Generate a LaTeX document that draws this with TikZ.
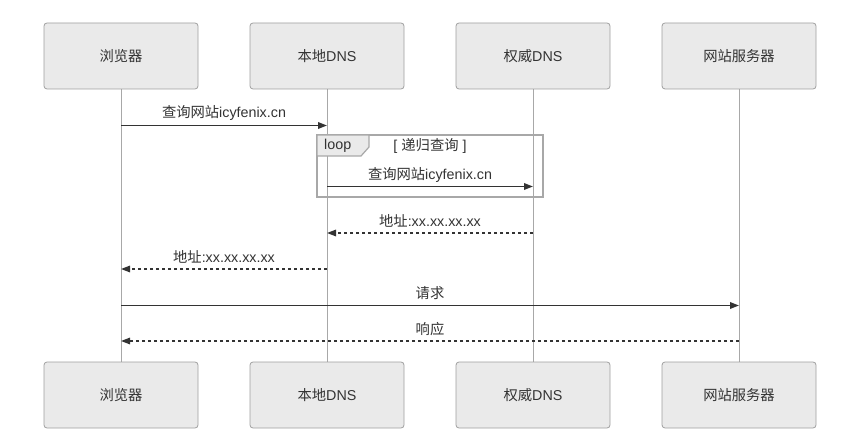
\documentclass[tikz,border=0pt]{standalone}
\usepackage{fontspec}
\setmainfont{Liberation Sans}
\newfontfamily\cjk{Noto Sans CJK SC}
\usetikzlibrary{arrows.meta}
\definecolor{boxfill}{HTML}{EAEAEA}
\definecolor{boxline}{HTML}{A0A0A0}
\definecolor{lifeline}{HTML}{A8A8A8}
\definecolor{msg}{HTML}{333333}
\definecolor{loopline}{HTML}{A8A8A8}
\begin{document}
\begin{tikzpicture}[x=1pt,y=-1pt,
  actor/.style={draw=boxline,fill=boxfill,line width=0.8pt,rounded corners=3pt,minimum width=154pt,minimum height=66pt,inner sep=0pt,text=msg,font=\fontsize{14.3}{16}\selectfont},
  life/.style={draw=lifeline,line width=0.8pt},
  msgline/.style={draw=msg,line width=1.8pt,-{Triangle[length=9pt,width=6.5pt]}},
  reply/.style={msgline,line width=1.4pt,dash pattern=on 3pt off 3pt},
  lbl/.style={text=msg,font=\fontsize{14.3}{16}\selectfont,inner sep=0pt}]
\useasboundingbox (0,0) rectangle (851,446);
\fill[white] (0,0) rectangle (851,446);
% lifelines
\foreach \n/\x in {a/121,b/327,c/533,d/739}{
  \coordinate (\n top) at (\x,89);
  \coordinate (\n bot) at (\x,362);
  \draw[life] (\n top) -- (\n bot);
}
% actors
\node[actor] (A1) at (121,56) {\cjk 浏览器};
\node[actor] (B1) at (327,56) {{\cjk 本地}DNS};
\node[actor] (C1) at (533,56) {{\cjk 权威}DNS};
\node[actor] (D1) at (739,56) {\cjk 网站服务器};
\node[actor] (A2) at (121,395) {\cjk 浏览器};
\node[actor] (B2) at (327,395) {{\cjk 本地}DNS};
\node[actor] (C2) at (533,395) {{\cjk 权威}DNS};
\node[actor] (D2) at (739,395) {\cjk 网站服务器};
% message anchors
\coordinate (m1s) at (121,125.5); \coordinate (m1e) at (327,125.5);
\coordinate (m2s) at (327,186.5); \coordinate (m2e) at (533,186.5);
\coordinate (m3s) at (533,233); \coordinate (m3e) at (327,233);
\coordinate (m4s) at (327,269); \coordinate (m4e) at (121,269);
\coordinate (m5s) at (121,305.5); \coordinate (m5e) at (739,305.5);
\coordinate (m6s) at (739,341); \coordinate (m6e) at (121,341);
% loop frame
\coordinate (L1) at (317,135);
\coordinate (L2) at (543,197);
\draw[loopline,line width=1.6pt] (L1) rectangle (L2);
\draw[loopline,line width=1.2pt,fill=boxfill] (317,135) -- (369,135) -- (369,147) -- (361,156) -- (317,156) -- cycle;
\node[lbl,anchor=west] (looplbl) at (324,145.5) {loop};
\node[lbl] (cond) at (430,145.5) {[ {\cjk 递归查询} ]};
% messages
\draw[msgline] (m1s) -- (m1e);
\node[lbl] (t1) at (224,113) {{\cjk 查询网站}icyfenix.cn};
\draw[msgline] (m2s) -- (m2e);
\node[lbl] (t2) at (430,174.5) {{\cjk 查询网站}icyfenix.cn};
\draw[reply] (m3s) -- (m3e);
\node[lbl] (t3) at (430,221) {{\cjk 地址}:xx.xx.xx.xx};
\draw[reply] (m4s) -- (m4e);
\node[lbl] (t4) at (224,257) {{\cjk 地址}:xx.xx.xx.xx};
\draw[msgline] (m5s) -- (m5e);
\node[lbl] (t5) at (430,293.5) {\cjk 请求};
\draw[reply] (m6s) -- (m6e);
\node[lbl] (t6) at (430,329) {\cjk 响应};
\end{tikzpicture}
\end{document}
